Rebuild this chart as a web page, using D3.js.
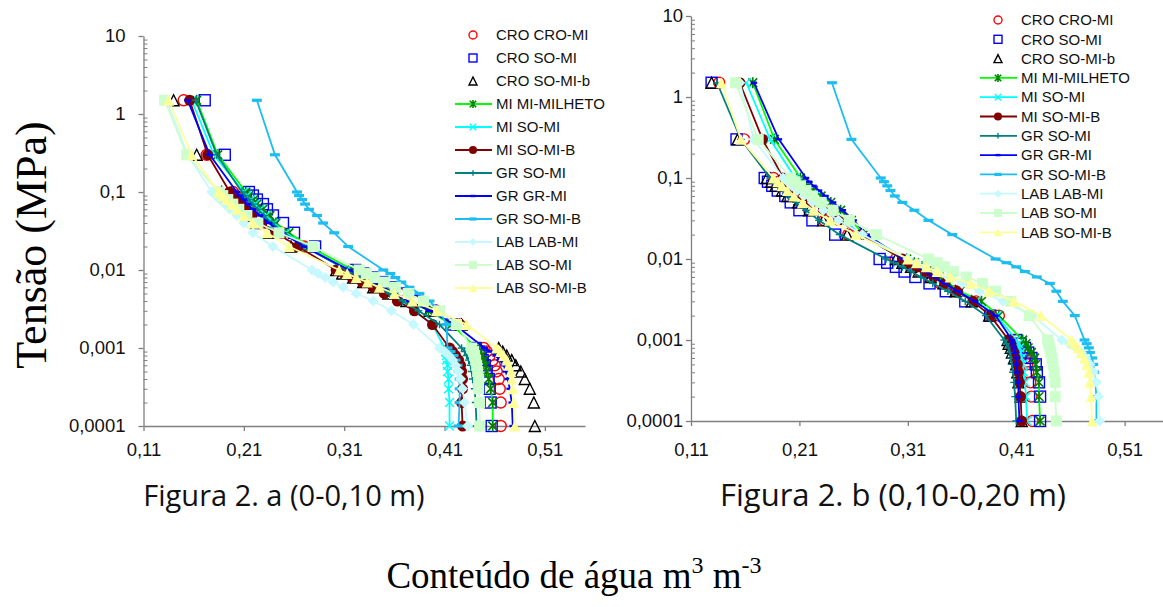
<!DOCTYPE html>
<html>
<head>
<meta charset="utf-8">
<script src="https://cdn.jsdelivr.net/npm/d3@7"></script>
<style>
    body { margin: 0; background: #fff; }
</style>
</head>
<body>
<div id="chart"></div>
<script>
    // tension levels (MPa), shared by every series
    var tensao = [1.5, 0.3, 0.1, 0.09, 0.08, 0.07, 0.06, 0.05, 0.04, 0.03, 0.02,
        0.01, 0.009, 0.008, 0.007, 0.006, 0.005, 0.004, 0.003, 0.002,
        0.001, 0.0009, 0.0008, 0.0007, 0.0006, 0.0005, 0.0004, 0.0003, 0.0002, 0.0001];

    var seriesNames = ["CRO CRO-MI", "CRO SO-MI", "CRO SO-MI-b", "MI MI-MILHETO", "MI SO-MI", "MI SO-MI-B",
        "GR SO-MI", "GR GR-MI", "GR SO-MI-B", "LAB LAB-MI", "LAB SO-MI", "LAB SO-MI-B"];

    var xTicks = [0.11, 0.21, 0.31, 0.41, 0.51];
    var yTicks = [0.0001, 0.001, 0.01, 0.1, 1, 10];
    var yTickLabels = ["0,0001", "0,001", "0,01", "0,1", "1", "10"];

    // Figura 2.a (0-0,10 m) - water content m3 m-3
    var croCroMiA = [0.150,0.173,0.199,0.202,0.206,0.210,0.215,0.223,0.233,0.248,0.270,0.318,0.325,0.333,0.342,0.352,0.364,0.380,0.402,0.425,0.449,0.452,0.455,0.458,0.460,0.462,0.464,0.465,0.466,0.466];
    var croSoMiA = [0.171,0.191,0.215,0.219,0.223,0.229,0.233,0.239,0.249,0.260,0.281,0.321,0.329,0.338,0.348,0.358,0.368,0.382,0.397,0.417,0.441,0.444,0.446,0.448,0.450,0.452,0.454,0.455,0.456,0.457];
    var croSoMiBA = [0.140,0.163,0.188,0.192,0.196,0.201,0.205,0.213,0.222,0.235,0.257,0.302,0.308,0.319,0.329,0.339,0.354,0.372,0.395,0.427,0.464,0.468,0.472,0.477,0.481,0.486,0.490,0.495,0.499,0.500];
    var miMilhetoA = [0.163,0.184,0.212,0.215,0.220,0.223,0.229,0.236,0.242,0.255,0.275,0.319,0.325,0.333,0.341,0.351,0.362,0.375,0.394,0.417,0.442,0.445,0.447,0.449,0.451,0.452,0.454,0.456,0.458,0.458];
    var miSoMiA = [0.158,0.180,0.210,0.213,0.217,0.221,0.226,0.232,0.240,0.252,0.272,0.312,0.318,0.325,0.333,0.342,0.352,0.365,0.380,0.398,0.410,0.411,0.412,0.412,0.413,0.413,0.414,0.414,0.415,0.415];
    var miSoMiBA = [0.156,0.174,0.196,0.199,0.203,0.207,0.212,0.218,0.228,0.242,0.264,0.302,0.310,0.318,0.328,0.339,0.350,0.363,0.380,0.398,0.415,0.418,0.421,0.424,0.426,0.427,0.428,0.428,0.427,0.428];
    var grSoMiA = [0.162,0.183,0.208,0.211,0.215,0.219,0.224,0.230,0.238,0.250,0.270,0.313,0.320,0.328,0.336,0.345,0.355,0.368,0.384,0.405,0.427,0.430,0.432,0.434,0.436,0.437,0.438,0.440,0.441,0.442];
    var grGrMiA = [0.154,0.176,0.203,0.206,0.210,0.214,0.219,0.226,0.235,0.248,0.270,0.315,0.322,0.330,0.339,0.349,0.360,0.375,0.395,0.420,0.450,0.456,0.461,0.465,0.469,0.471,0.473,0.475,0.477,0.478];
    var grSoMiBA = [0.223,0.241,0.263,0.265,0.268,0.271,0.275,0.283,0.289,0.300,0.314,0.349,0.356,0.361,0.367,0.375,0.385,0.395,0.405,0.412,0.413,0.416,0.419,0.421,0.423,0.424,0.425,0.425,0.425,0.424];
    var labLabMiA = [0.133,0.154,0.178,0.182,0.186,0.191,0.196,0.203,0.210,0.219,0.239,0.278,0.284,0.291,0.299,0.309,0.322,0.339,0.357,0.379,0.405,0.410,0.414,0.418,0.421,0.424,0.426,0.428,0.430,0.433];
    var labSoMiA = [0.131,0.153,0.185,0.189,0.194,0.199,0.205,0.213,0.224,0.245,0.279,0.325,0.332,0.340,0.350,0.361,0.374,0.389,0.405,0.422,0.437,0.439,0.440,0.441,0.442,0.443,0.444,0.444,0.445,0.445];
    var labSoMiBA = [0.135,0.158,0.185,0.189,0.193,0.198,0.203,0.210,0.219,0.233,0.255,0.305,0.313,0.322,0.333,0.345,0.360,0.378,0.402,0.432,0.462,0.466,0.469,0.472,0.474,0.476,0.477,0.478,0.479,0.480];

    // Figura 2.b (0,10-0,20 m)
    var croCroMiB = [0.136,0.159,0.186,0.191,0.195,0.200,0.204,0.212,0.219,0.233,0.255,0.299,0.306,0.313,0.321,0.330,0.340,0.354,0.373,0.394,0.410,0.412,0.414,0.416,0.418,0.420,0.421,0.423,0.424,0.425];
    var croSoMiB = [0.129,0.152,0.178,0.181,0.185,0.190,0.197,0.202,0.210,0.222,0.243,0.284,0.291,0.299,0.307,0.317,0.330,0.345,0.363,0.386,0.410,0.414,0.418,0.421,0.424,0.428,0.429,0.431,0.432,0.432];
    var croSoMiBB = [0.129,0.153,0.180,0.184,0.188,0.194,0.199,0.209,0.219,0.232,0.254,0.299,0.305,0.313,0.320,0.331,0.343,0.354,0.369,0.385,0.402,0.403,0.405,0.406,0.408,0.410,0.411,0.412,0.414,0.415];
    var miMilhetoB = [0.167,0.187,0.211,0.214,0.218,0.223,0.230,0.239,0.248,0.258,0.269,0.309,0.316,0.323,0.331,0.339,0.348,0.358,0.378,0.394,0.416,0.419,0.421,0.424,0.427,0.428,0.429,0.431,0.431,0.432];
    var miSoMiB = [0.161,0.183,0.206,0.209,0.213,0.218,0.224,0.232,0.241,0.252,0.266,0.305,0.311,0.318,0.326,0.334,0.344,0.356,0.373,0.392,0.410,0.412,0.413,0.414,0.415,0.416,0.417,0.418,0.419,0.420];
    var miSoMiBB = [0.155,0.176,0.195,0.199,0.203,0.208,0.214,0.221,0.232,0.246,0.267,0.305,0.311,0.318,0.326,0.334,0.344,0.356,0.370,0.386,0.403,0.405,0.406,0.408,0.409,0.411,0.412,0.413,0.414,0.415];
    var grSoMiB = [0.134,0.156,0.183,0.186,0.190,0.195,0.200,0.207,0.216,0.228,0.247,0.290,0.297,0.305,0.313,0.322,0.333,0.347,0.363,0.382,0.399,0.401,0.403,0.404,0.405,0.406,0.407,0.408,0.409,0.410];
    var grGrMiB = [0.168,0.191,0.216,0.219,0.223,0.228,0.234,0.241,0.250,0.260,0.272,0.306,0.312,0.319,0.326,0.334,0.344,0.356,0.372,0.391,0.406,0.407,0.408,0.409,0.410,0.410,0.411,0.412,0.412,0.413];
    var grSoMiBB = [0.240,0.258,0.285,0.288,0.291,0.294,0.298,0.305,0.316,0.329,0.351,0.391,0.401,0.410,0.418,0.429,0.441,0.447,0.453,0.464,0.473,0.475,0.477,0.478,0.480,0.481,0.482,0.483,0.484,0.484];
    var labLabMiB = [0.155,0.168,0.195,0.199,0.203,0.208,0.214,0.222,0.232,0.246,0.268,0.310,0.318,0.326,0.336,0.347,0.360,0.376,0.398,0.425,0.452,0.459,0.465,0.470,0.474,0.478,0.481,0.484,0.486,0.487];
    var labSoMiB = [0.151,0.172,0.202,0.206,0.211,0.216,0.222,0.230,0.241,0.256,0.281,0.329,0.337,0.344,0.352,0.364,0.379,0.391,0.405,0.422,0.439,0.440,0.441,0.442,0.443,0.444,0.445,0.446,0.446,0.447];
    var labSoMiBB = [0.138,0.156,0.186,0.190,0.194,0.199,0.205,0.213,0.223,0.238,0.262,0.310,0.318,0.327,0.337,0.349,0.368,0.385,0.408,0.433,0.461,0.464,0.467,0.470,0.473,0.475,0.477,0.478,0.479,0.480];

    var seriesA = [croCroMiA, croSoMiA, croSoMiBA, miMilhetoA, miSoMiA, miSoMiBA, grSoMiA, grGrMiA, grSoMiBA, labLabMiA, labSoMiA, labSoMiBA];
    var seriesB = [croCroMiB, croSoMiB, croSoMiBB, miMilhetoB, miSoMiB, miSoMiBB, grSoMiB, grGrMiB, grSoMiBB, labLabMiB, labSoMiB, labSoMiBB];

    // styles
    var lineColors = [null, null, null, "#00FF00", "#00FFFF", "#800000", "#008080", "#0000FF", "#1CBDF0", "#C6F9FF", "#CCFFCC", "#FFFF99"];
    var markerColors = ["#FF0000", "#0000FF", "#000000", "#008000", "#00FFFF", "#800000", "#008080", "#0000FF", "#1CBDF0", "#C6F9FF", "#CCFFCC", "#FFFF99"];
    var markerTypes = ["circle", "square", "triangle", "star", "cross", "dot", "plus", "dash", "bar", "diamond", "squareFill", "triangleFill"];

    var SANS = "'Liberation Sans', Arial, sans-serif";
    var SERIF = "'Liberation Serif', 'Times New Roman', serif";

    var svg = d3.select("#chart").append("svg")
        .attr("width", 1163)
        .attr("height", 607);

    svg.append("rect").attr("width", 1163).attr("height", 607).attr("fill", "#fff");

    // draws one marker centered on 0,0
    function drawMarker(g, type, s, color) {
        var h = s / 2;
        if (type == "circle") {
            g.append("circle").attr("r", h).attr("fill", "none").attr("stroke", color).attr("stroke-width", 1.4);
        } else if (type == "square") {
            g.append("rect").attr("x", -h).attr("y", -h).attr("width", s).attr("height", s)
                .attr("fill", "none").attr("stroke", color).attr("stroke-width", 1.4);
        } else if (type == "triangle") {
            g.append("path").attr("d", "M0," + (-h) + "L" + h + "," + h + "L" + (-h) + "," + h + "Z")
                .attr("fill", "none").attr("stroke", color).attr("stroke-width", 1.4);
        } else if (type == "star") {
            var k = h * 0.8;
            g.append("path").attr("d", "M" + (-k) + "," + (-k) + "L" + k + "," + k + "M" + k + "," + (-k) + "L" + (-k) + "," + k + "M0," + (-h) + "L0," + h)
                .attr("stroke", color).attr("stroke-width", 1.6);
        } else if (type == "cross") {
            var c = h * 0.8;
            g.append("path").attr("d", "M" + (-c) + "," + (-c) + "L" + c + "," + c + "M" + c + "," + (-c) + "L" + (-c) + "," + c)
                .attr("stroke", color).attr("stroke-width", 1.4);
        } else if (type == "dot") {
            g.append("circle").attr("r", h).attr("fill", color);
        } else if (type == "plus") {
            g.append("path").attr("d", "M" + (-h * 0.7) + ",0L" + (h * 0.7) + ",0M0," + (-h * 0.7) + "L0," + (h * 0.7))
                .attr("stroke", color).attr("stroke-width", 1.4);
        } else if (type == "dash") {
            g.append("rect").attr("x", -h * 0.6).attr("y", -1.2).attr("width", s * 0.6).attr("height", 2.4).attr("fill", color);
        } else if (type == "bar") {
            g.append("rect").attr("x", -h * 0.9).attr("y", -1.6).attr("width", s * 0.9).attr("height", 3.2).attr("fill", color);
        } else if (type == "diamond") {
            g.append("path").attr("d", "M0," + (-h) + "L" + h + ",0L0," + h + "L" + (-h) + ",0Z").attr("fill", color);
        } else if (type == "squareFill") {
            g.append("rect").attr("x", -h).attr("y", -h).attr("width", s).attr("height", s).attr("fill", color);
        } else if (type == "triangleFill") {
            g.append("path").attr("d", "M0," + (-h) + "L" + h + "," + h + "L" + (-h) + "," + h + "Z").attr("fill", color);
        }
    }

    function drawPanel(cfg) {
        var x = d3.scaleLinear().domain([0.11, 0.55]).range(cfg.xRange);
        var y = d3.scaleLog().domain([0.0001, 10]).range(cfg.yRange);
        var g = svg.append("g");

        // y axis, minor ticks inside
        var minor = [];
        [0.0001, 0.001, 0.01, 0.1, 1].forEach(function (d) {
            for (var m = 2; m <= 9; m++) minor.push(d * m);
        });
        g.append("g")
            .attr("transform", "translate(" + cfg.xRange[0] + ",0)")
            .call(d3.axisLeft(y).tickValues(minor).tickSize(-4).tickFormat(""))
            .call(function (a) { a.select(".domain").remove(); a.selectAll("line").attr("stroke", "#7f7f7f"); });

        var yAxis = g.append("g")
            .attr("transform", "translate(" + cfg.xRange[0] + ",0)")
            .call(d3.axisLeft(y).tickValues(yTicks).tickSize(5).tickSizeOuter(0).tickPadding(cfg.yPad)
                .tickFormat(function (d, i) { return yTickLabels[i]; }));

        var xAxis = g.append("g")
            .attr("transform", "translate(0," + cfg.yRange[0] + ")")
            .call(d3.axisBottom(x).tickValues(xTicks).tickSize(5).tickSizeOuter(0).tickPadding(cfg.xPad)
                .tickFormat(function (d) { return d3.format(".2f")(d).replace(".", ","); }));

        [yAxis, xAxis].forEach(function (a) {
            a.select(".domain").attr("stroke", "#7f7f7f").attr("stroke-width", 1.3);
            a.selectAll("line").attr("stroke", "#7f7f7f").attr("stroke-width", 1.3);
            a.selectAll("text").style("font-size", "18.5px").style("font-family", SANS).attr("fill", "#111");
        });

        var line = d3.line()
            .x(function (d) { return x(d[0]); })
            .y(function (d) { return y(d[1]); });

        cfg.series.forEach(function (vals, i) {
            var pts = vals.map(function (v, j) { return [v, tensao[j]]; });
            var sg = g.append("g");
            if (lineColors[i]) {
                sg.append("path").datum(pts).attr("d", line)
                    .attr("fill", "none").attr("stroke", lineColors[i]).attr("stroke-width", 1.8);
            }
            pts.forEach(function (p) {
                var mg = sg.append("g").attr("transform", "translate(" + x(p[0]) + "," + y(p[1]) + ")");
                drawMarker(mg, markerTypes[i], cfg.markerSize, markerColors[i]);
            });
        });

        // legend
        var lg = g.append("g");
        seriesNames.forEach(function (name, i) {
            var ly = cfg.legendY + i * cfg.legendStep;
            if (lineColors[i]) {
                lg.append("line").attr("x1", cfg.legendX - 18).attr("x2", cfg.legendX + 19)
                    .attr("y1", ly).attr("y2", ly).attr("stroke", lineColors[i]).attr("stroke-width", 1.8);
            }
            var mg = lg.append("g").attr("transform", "translate(" + cfg.legendX + "," + ly + ")");
            drawMarker(mg, markerTypes[i], 8, markerColors[i]);
            lg.append("text").attr("x", cfg.legendX + 23).attr("y", ly).attr("dy", "0.35em")
                .style("font-size", "15px").style("font-family", SANS).attr("fill", "#111").text(name);
        });

        svg.append("text").attr("x", cfg.captionX).attr("y", 506)
            .attr("text-anchor", "middle")
            .style("font-size", cfg.captionSize)
            .style("font-family", "'Open Sans', 'Noto Sans', sans-serif")
            .attr("fill", "#111")
            .text(cfg.caption);
    }

    drawPanel({
        series: seriesA,
        xRange: [143.5, 585],
        yRange: [426, 36],
        xPad: 12, yPad: 13,
        markerSize: 11,
        legendX: 473, legendY: 35, legendStep: 23,
        captionX: 284, captionSize: "29px",
        caption: "Figura 2. a (0-0,10 m)"
    });

    drawPanel({
        series: seriesB,
        xRange: [691, 1168],
        yRange: [421, 16],
        xPad: 17, yPad: 3,
        markerSize: 11,
        legendX: 998, legendY: 20, legendStep: 19.3,
        captionX: 893, captionSize: "31px",
        caption: "Figura 2. b (0,10-0,20 m)"
    });

    // axis titles
    svg.append("text")
        .attr("transform", "translate(46,245) rotate(-90)")
        .attr("text-anchor", "middle")
        .style("font-family", SERIF)
        .style("font-size", "44px")
        .text("Tensão (MPa)");

    var xt = svg.append("text")
        .attr("x", 574).attr("y", 588)
        .attr("text-anchor", "middle")
        .style("font-family", SERIF)
        .style("font-size", "37px");
    xt.append("tspan").text("Conteúdo de água m");
    xt.append("tspan").attr("dy", -15).style("font-size", "24px").text("3");
    xt.append("tspan").attr("dy", 15).text(" m");
    xt.append("tspan").attr("dy", -15).style("font-size", "24px").text("-3");
</script>
</body>
</html>
